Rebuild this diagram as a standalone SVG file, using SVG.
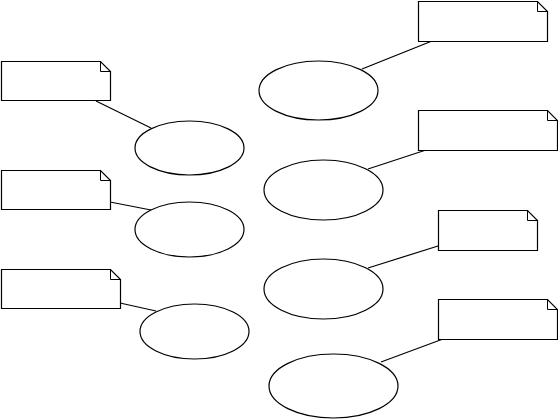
<svg xmlns="http://www.w3.org/2000/svg" width="558" height="419" viewBox="0 0 558 419">
<style>
.note{fill:#fff;stroke:#000;stroke-width:1.2}
.fold{fill:none;stroke:#000;stroke-width:1}
.uc{fill:#fff;stroke:#000;stroke-width:1.2}
.conn line{stroke:#000;stroke-width:1.2}
</style>
<rect width="558" height="419" fill="#fff"/>
<g id="connectors" class="conn">
<line x1="96" y1="101" x2="151" y2="128"/>
<line x1="110" y1="202" x2="151" y2="210"/>
<line x1="120" y1="303" x2="156" y2="311"/>
<line x1="432" y1="41" x2="362" y2="69"/>
<line x1="426" y1="150" x2="368" y2="169"/>
<line x1="438" y1="246" x2="368" y2="268"/>
<line x1="443" y1="339" x2="381" y2="362"/>
</g>
<g id="note1"><path class="note" d="M1.5,61.5 H100.5 L110.5,71.5 V100.5 H1.5 Z"/><path class="fold" d="M100.5,61.5 V71.5 H110.5"/></g>
<g id="note2"><path class="note" d="M1.5,170.5 H100.5 L110.5,180.5 V209.5 H1.5 Z"/><path class="fold" d="M100.5,170.5 V180.5 H110.5"/></g>
<g id="note3"><path class="note" d="M1.5,269.5 H110.5 L120.5,279.5 V308.5 H1.5 Z"/><path class="fold" d="M110.5,269.5 V279.5 H120.5"/></g>
<g id="note4"><path class="note" d="M418.5,1.5 H537.5 L547.5,11.5 V41.5 H418.5 Z"/><path class="fold" d="M537.5,1.5 V11.5 H547.5"/></g>
<g id="note5"><path class="note" d="M418.5,110.5 H547.5 L557.5,120.5 V150.5 H418.5 Z"/><path class="fold" d="M547.5,110.5 V120.5 H557.5"/></g>
<g id="note6"><path class="note" d="M438.5,210.5 H527.5 L537.5,220.5 V250.5 H438.5 Z"/><path class="fold" d="M527.5,210.5 V220.5 H537.5"/></g>
<g id="note7"><path class="note" d="M438.5,299.5 H547.5 L557.5,309.5 V339.5 H438.5 Z"/><path class="fold" d="M547.5,299.5 V309.5 H557.5"/></g>
<g id="usecase1"><ellipse class="uc" cx="189.5" cy="148" rx="54.5" ry="27"/></g>
<g id="usecase2"><ellipse class="uc" cx="189.5" cy="229.5" rx="54.5" ry="27.5"/></g>
<g id="usecase3"><ellipse class="uc" cx="194.5" cy="331.5" rx="54.5" ry="27.5"/></g>
<g id="usecase4"><ellipse class="uc" cx="318.5" cy="90.5" rx="59.5" ry="29.5"/></g>
<g id="usecase5"><ellipse class="uc" cx="323.5" cy="190" rx="59.5" ry="30"/></g>
<g id="usecase6"><ellipse class="uc" cx="323.5" cy="289" rx="59.5" ry="30"/></g>
<g id="usecase7"><ellipse class="uc" cx="333.5" cy="386" rx="64.5" ry="32"/></g>
</svg>
